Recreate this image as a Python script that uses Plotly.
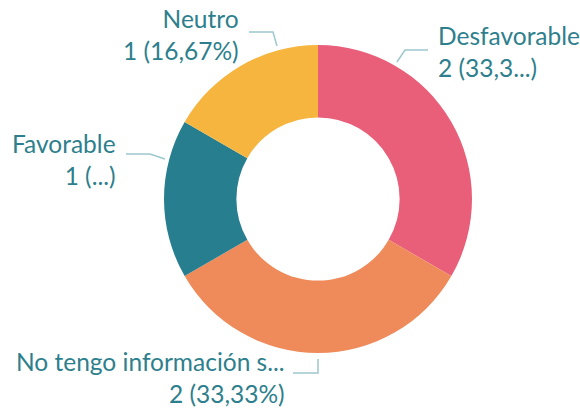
import plotly.graph_objects as go

labels = ["Desfavorable", "No tengo información s...", "Favorable", "Neutro"]
values = [2, 2, 1, 1]
colors = ["#E95E78", "#EF8B5B", "#277E8F", "#F5B53F"]
label_text = ["Desfavorable<br>2 (33,3...)", "No tengo información s...<br>2 (33,33%)",
              "Favorable<br>1 (...)", "Neutro<br>1 (16,67%)"]

W, H = 580, 410
def px(x): return x / W
def py(y): return 1 - y / H

fig = go.Figure(go.Pie(
    labels=labels, values=values, hole=0.53, sort=False, direction="clockwise",
    rotation=0, marker=dict(colors=colors, line=dict(width=0)),
    textinfo="none", hoverinfo="label+value+percent", showlegend=False,
    domain=dict(x=[px(318 - 154), px(318 + 154)], y=[py(199 + 154), py(199 - 154)]),
))

text_color = "#2E7F8D"
line_color = "#9DC7CE"
font = dict(family="Lato", size=24.5, color=text_color)

# label anchors (pixel layout positions)
anchors = [
    dict(x=436, y=51, xanchor="left"),
    dict(x=287, y=377, xanchor="right"),
    dict(x=118, y=159, xanchor="right"),
    dict(x=241, y=35, xanchor="right"),
]
for t, a in zip(label_text, anchors):
    fig.add_annotation(text=t, x=px(a["x"]), y=py(a["y"]), xref="paper", yref="paper",
                       xanchor=a["xanchor"], yanchor="middle", showarrow=False,
                       align="left" if a["xanchor"] == "left" else "right", font=font)

leaders = [
    [(397, 62), (405, 50), (428, 50)],
    [(318, 359), (318, 373), (293, 373)],
    [(165, 159), (150, 154), (126, 154)],
    [(277, 46), (273, 32), (249, 32)],
]
for pts in leaders:
    path = "M " + " L ".join(f"{px(x)} {py(y)}" for x, y in pts)
    fig.add_shape(type="path", path=path, xref="paper", yref="paper",
                  line=dict(color=line_color, width=1.5))

fig.update_layout(width=W, height=H, margin=dict(l=0, r=0, t=0, b=0),
                  paper_bgcolor="white", plot_bgcolor="white")
fig.write_html("out.html")
